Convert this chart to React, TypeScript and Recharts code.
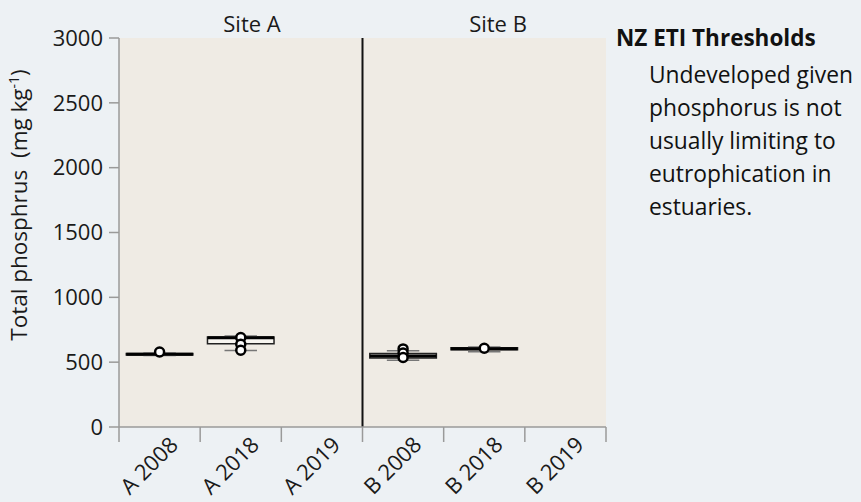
import React from 'react';
import {
  ComposedChart,
  XAxis,
  YAxis,
  CartesianGrid,
  ReferenceArea,
  ReferenceLine,
  Scatter,
  Label,
} from 'recharts';

const categories = ['A 2008', 'A 2018', 'A 2019', 'B 2008', 'B 2018', 'B 2019'];
const whiskerLow = [552, 590, null, 514, 580, null];
const q1 = [556, 642, null, 532, 596, null];
const median = [561, 688, null, 548, 604, null];
const q3 = [566, 694, null, 566, 612, null];
const whiskerHigh = [570, 702, null, 588, 617, null];
const outliers = [[578], [690, 638, 592], [], [602, 570, 536], [607], []];
const yTicks = [0, 500, 1000, 1500, 2000, 2500, 3000];
const sites = ['Site A', 'Site B'];

const FONT = "'Open Sans', sans-serif";
const AXIS = '#9a9a9a';

const outlierData = outliers.flatMap((vals, i) => vals.map((v) => ({ x: i + 0.5, y: v })));

// edge ticks carry the tick marks, half ticks carry the labels
const xTicks = categories.flatMap((_, i) => [i, i + 0.5]).concat(categories.length);

function XTick(props: any) {
  const { x, y, payload } = props;
  const v = payload.value as number;
  if (Number.isInteger(v)) {
    return <line x1={x} y1={y} x2={x} y2={y + 15} stroke={AXIS} strokeWidth={1.5} />;
  }
  const cx = x - 5;
  const cy = y + 44;
  return (
    <text
      x={cx}
      y={cy}
      textAnchor="middle"
      transform={`rotate(-45, ${cx}, ${cy})`}
      fontSize={22}
      fill="#1a1a1a"
    >
      {categories[Math.floor(v)]}
    </text>
  );
}

function YTitle() {
  return (
    <text
      x={-205}
      y={27}
      transform="rotate(-90)"
      textAnchor="middle"
      fontSize={22.5}
      fill="#1a1a1a"
      style={{ whiteSpace: 'pre' }}
    >
      Total phosphrus  (mg kg
      <tspan dy={-8} fontSize={14}>-1</tspan>
      <tspan dy={8}>)</tspan>
    </text>
  );
}

function Outlier(props: any) {
  const { cx, cy } = props;
  return <circle cx={cx} cy={cy} r={4.5} fill="#fff" stroke="#000" strokeWidth={2.5} />;
}

export default function App() {
  return (
    <div
      style={{
        position: 'fixed',
        left: 0,
        top: 0,
        width: 861,
        height: 502,
        background: '#edf1f4',
        fontFamily: FONT,
        overflow: 'hidden',
      }}
    >
      <ComposedChart
        width={861}
        height={502}
        data={outlierData}
        margin={{ top: 38, right: 255, bottom: 0, left: 0 }}
      >
        <CartesianGrid fill="#efebe4" horizontal={false} vertical={false} />
        <XAxis
          dataKey="x"
          type="number"
          domain={[0, categories.length]}
          ticks={xTicks}
          interval={0}
          height={75}
          tickSize={0}
          tickMargin={0}
          tickLine={false}
          stroke={AXIS}
          strokeWidth={1.5}
          tick={<XTick />}
        />
        <YAxis
          type="number"
          domain={[0, 3000]}
          ticks={yTicks}
          width={119}
          tickSize={10}
          tickMargin={6}
          stroke={AXIS}
          strokeWidth={1.5}
          tick={{ fontSize: 22, fill: '#1a1a1a' }}
        >
          <Label content={<YTitle />} />
        </YAxis>

        {categories.map((c, i) =>
          q1[i] == null ? null : (
            <ReferenceLine
              key={`wv-${c}`}
              segment={[
                { x: i + 0.5, y: whiskerLow[i] },
                { x: i + 0.5, y: whiskerHigh[i] },
              ]}
              stroke="#777"
              strokeWidth={1.2}
            />
          )
        )}
        {categories.map((c, i) =>
          q1[i] == null ? null : (
            <ReferenceArea
              key={`box-${c}`}
              x1={i + 0.09}
              x2={i + 0.91}
              y1={q1[i]}
              y2={q3[i]}
              fill="#f7f5f0"
              fillOpacity={1}
              stroke="#222"
              strokeWidth={1.5}
            />
          )
        )}
        {categories.map((c, i) =>
          q1[i] == null ? null : (
            <ReferenceLine
              key={`wl-${c}`}
              segment={[
                { x: i + 0.3, y: whiskerLow[i] },
                { x: i + 0.7, y: whiskerLow[i] },
              ]}
              stroke="#777"
              strokeWidth={1.5}
            />
          )
        )}
        {categories.map((c, i) =>
          q1[i] == null ? null : (
            <ReferenceLine
              key={`wh-${c}`}
              segment={[
                { x: i + 0.3, y: whiskerHigh[i] },
                { x: i + 0.7, y: whiskerHigh[i] },
              ]}
              stroke="#777"
              strokeWidth={1.5}
            />
          )
        )}
        {categories.map((c, i) =>
          q1[i] == null ? null : (
            <ReferenceLine
              key={`med-${c}`}
              segment={[
                { x: i + 0.09, y: median[i] },
                { x: i + 0.91, y: median[i] },
              ]}
              stroke="#000"
              strokeWidth={3}
            />
          )
        )}

        <ReferenceLine x={3} stroke="#111" strokeWidth={2} />

        <Scatter dataKey="y" shape={<Outlier />} isAnimationActive={false} />

        <text x={252} y={32} textAnchor="middle" fontSize={22} fill="#1a1a1a">
          {sites[0]}
        </text>
        <text x={498} y={32} textAnchor="middle" fontSize={22} fill="#1a1a1a">
          {sites[1]}
        </text>
      </ComposedChart>

      <div
        style={{
          position: 'absolute',
          left: 616,
          top: 22,
          fontSize: 22.5,
          fontWeight: 700,
          color: '#111',
          whiteSpace: 'nowrap',
        }}
      >
        NZ ETI Thresholds
      </div>
      <div
        style={{
          position: 'absolute',
          left: 649,
          top: 58,
          width: 230,
          fontSize: 22.8,
          lineHeight: '33px',
          color: '#111',
        }}
      >
        Undeveloped given
        <br />
        phosphorus is not
        <br />
        usually limiting to
        <br />
        eutrophication in
        <br />
        estuaries.
      </div>
    </div>
  );
}
